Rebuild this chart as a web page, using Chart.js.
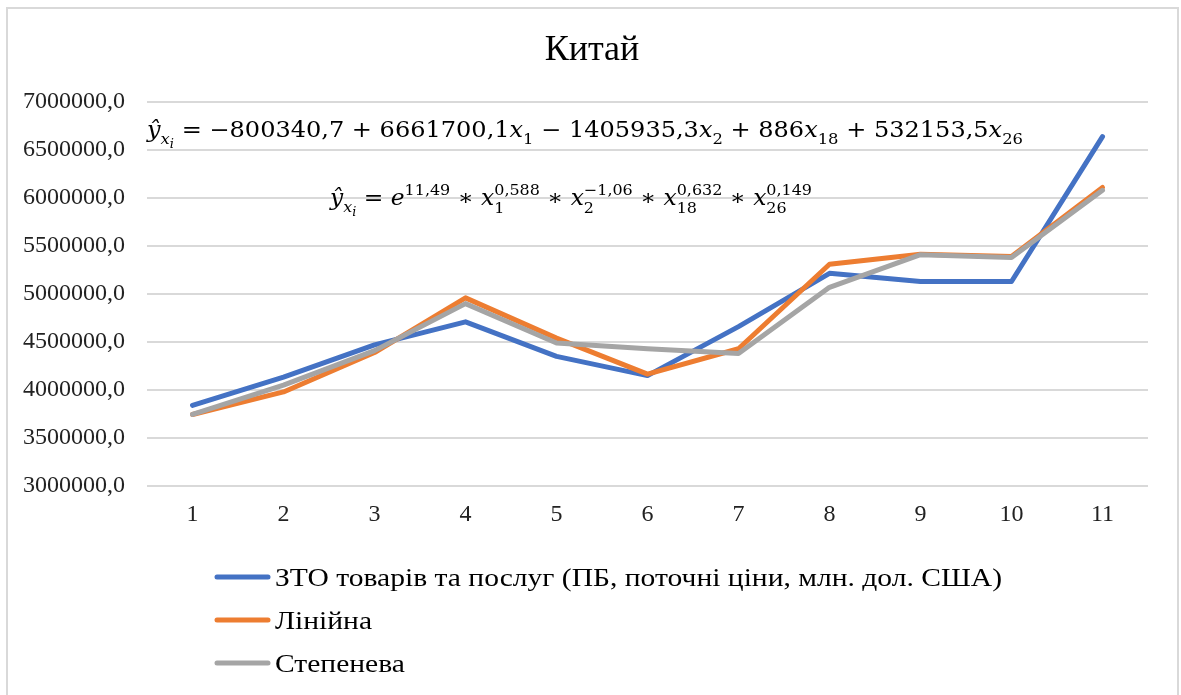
<!DOCTYPE html>
<html>
<head>
<meta charset="utf-8">
<script src="https://cdn.jsdelivr.net/npm/chart.js@4.4.1/dist/chart.umd.min.js"></script>
<style>
  html, body { margin: 0; padding: 0; background: #fff; }
  #wrap { width: 1181px; height: 695px; position: relative; }
</style>
</head>
<body>
<div id="wrap"><canvas id="chart" width="1181" height="695"></canvas></div>
<script>
// Дані
const categories = ['1', '2', '3', '4', '5', '6', '7', '8', '9', '10', '11'];
const seriesNames = ['ЗТО товарів та послуг (ПБ, поточні ціни, млн. дол. США)', 'Лінійна', 'Степенева'];
const actualValues = [3840000, 4135000, 4470000, 4710000, 4350000, 4150000, 4660000, 5215000, 5130000, 5130000, 6640000];
const linearValues = [3745000, 3980000, 4390000, 4960000, 4540000, 4165000, 4430000, 5310000, 5415000, 5390000, 6110000];
const powerValues = [3745000, 4050000, 4410000, 4900000, 4490000, 4430000, 4380000, 5070000, 5410000, 5380000, 6080000];
const seriesColors = ['#4472C4', '#ED7D31', '#A5A5A5'];
const yTicks = { min: 3000000, max: 7000000, step: 500000 };
const chartTitle = 'Китай';

// Рівняння: [тип, текст]; 'ss' = верхній і нижній індекс один над одним
const eqLinear = [
  ['i', 'ŷ'], ['subi', 'x'], ['subsub', 'i'],
  ['n', ' = −800340,7 + 6661700,1'], ['i', 'x'], ['sub', '1'],
  ['n', ' − 1405935,3'], ['i', 'x'], ['sub', '2'],
  ['n', ' + 886'], ['i', 'x'], ['sub', '18'],
  ['n', ' + 532153,5'], ['i', 'x'], ['sub', '26']
];
const eqPower = [
  ['i', 'ŷ'], ['subi', 'x'], ['subsub', 'i'],
  ['n', ' = '], ['i', 'e'], ['sup', '11,49'],
  ['op', ' ∗ '], ['i', 'x'], ['ss', '0,588', '1'],
  ['op', ' ∗ '], ['i', 'x'], ['ss', '−1,06', '2'],
  ['op', ' ∗ '], ['i', 'x'], ['ss', '0,632', '18'],
  ['op', ' ∗ '], ['i', 'x'], ['ss', '0,149', '26']
];

const SERIF = '"Liberation Serif", "Times New Roman", serif';
const MATH = '"DejaVu Serif", "Liberation Serif", serif';

function segFont(type, size) {
  if (type === 'i') return `italic ${size}px ${MATH}`;
  if (type === 'subi') return `italic ${Math.round(size * 0.7)}px ${MATH}`;
  if (type === 'sub' || type === 'sup' || type === 'ss') return `${Math.round(size * 0.7)}px ${MATH}`;
  if (type === 'subsub') return `italic ${Math.round(size * 0.55)}px ${MATH}`;
  return `${size}px ${MATH}`;
}

function segWidth(ctx, seg, size) {
  ctx.font = segFont(seg[0], size);
  if (seg[0] === 'ss') return Math.max(ctx.measureText(seg[1]).width, ctx.measureText(seg[2]).width);
  return ctx.measureText(seg[1]).width;
}

function drawEquation(ctx, segs, x0, x1, baseline, size) {
  let total = 0;
  segs.forEach(s => { total += segWidth(ctx, s, size); });
  const k = (x1 - x0) / total;
  ctx.save();
  ctx.translate(x0, baseline);
  ctx.scale(k, 1);
  ctx.fillStyle = '#000';
  ctx.textBaseline = 'alphabetic';
  ctx.textAlign = 'left';
  let x = 0;
  segs.forEach(s => {
    const w = segWidth(ctx, s, size);
    ctx.font = segFont(s[0], size);
    const t = s[0];
    if (t === 'sub' || t === 'subi') ctx.fillText(s[1], x, size * 0.3);
    else if (t === 'subsub') ctx.fillText(s[1], x, size * 0.5);
    else if (t === 'sup') ctx.fillText(s[1], x, -size * 0.45);
    else if (t === 'ss') {
      ctx.fillText(s[1], x, -size * 0.45);
      ctx.fillText(s[2], x, size * 0.35);
    } else ctx.fillText(s[1], x, 0);
    x += w;
  });
  ctx.restore();
}

const extrasPlugin = {
  id: 'extras',
  afterDraw(chart) {
    const ctx = chart.ctx;
    // рамка діаграми
    ctx.save();
    ctx.strokeStyle = '#D9D9D9';
    ctx.lineWidth = 2;
    ctx.strokeRect(7, 8, 1171, 700);

    // заголовок
    ctx.fillStyle = '#000';
    ctx.font = `36px ${SERIF}`;
    ctx.textAlign = 'center';
    ctx.textBaseline = 'middle';
    ctx.fillText(chartTitle, 592, 51);
    ctx.restore();

    drawEquation(ctx, eqLinear, 147, 1023, 137, 22);
    drawEquation(ctx, eqPower, 330, 812, 205, 22);

    // легенда
    const rows = [577, 620, 663];
    ctx.save();
    ctx.font = `26px ${SERIF}`;
    const kx = 727 / ctx.measureText(seriesNames[0]).width;
    chart.data.datasets.forEach((ds, i) => {
      const y = rows[i];
      ctx.strokeStyle = ds.borderColor;
      ctx.lineWidth = 5;
      ctx.lineCap = 'round';
      ctx.beginPath();
      ctx.moveTo(217, y);
      ctx.lineTo(268, y);
      ctx.stroke();
      ctx.save();
      ctx.translate(275, y + 2);
      ctx.scale(kx, 1);
      ctx.fillStyle = '#000';
      ctx.textBaseline = 'middle';
      ctx.textAlign = 'left';
      ctx.fillText(ds.label, 0, 0);
      ctx.restore();
    });
    ctx.restore();
  }
};

const seriesData = [actualValues, linearValues, powerValues];

const chart = new Chart(document.getElementById('chart'), {
  type: 'line',
  data: {
    labels: categories,
    datasets: seriesNames.map((name, i) => ({
      label: name,
      data: seriesData[i],
      borderColor: seriesColors[i],
      backgroundColor: seriesColors[i],
      borderWidth: 5,
      pointRadius: 0,
      tension: 0,
      borderCapStyle: 'round',
      borderJoinStyle: 'round',
      order: 3 - i
    }))
  },
  options: {
    responsive: false,
    animation: false,
    layout: { padding: { left: 0, right: 33, top: 102, bottom: 169 } },
    plugins: {
      legend: { display: false },
      tooltip: { enabled: false },
      title: { display: false }
    },
    scales: {
      x: {
        offset: true,
        afterFit(scale) { scale.height = 40; },
        grid: { display: false, drawTicks: false, offset: true },
        border: { display: false },
        ticks: { color: '#222', font: { family: SERIF, size: 24 }, padding: 14, maxRotation: 0 }
      },
      y: {
        min: yTicks.min,
        max: yTicks.max,
        afterFit(scale) { scale.width = 147; },
        grid: { color: '#D9D9D9', lineWidth: 2, drawTicks: false },
        border: { display: false },
        ticks: {
          stepSize: yTicks.step,
          color: '#222',
          padding: 22,
          font: { family: SERIF, size: 24 },
          callback: v => v.toFixed(1).replace('.', ',')
        }
      }
    }
  },
  plugins: [extrasPlugin]
});
</script>
</body>
</html>
